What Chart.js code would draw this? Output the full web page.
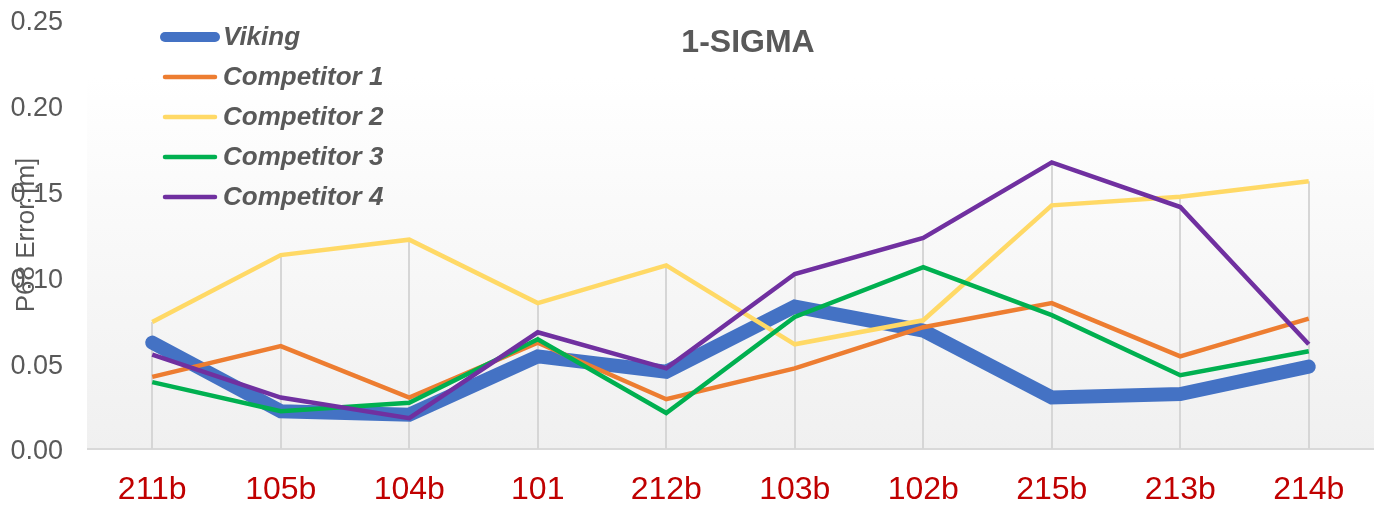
<!DOCTYPE html>
<html>
<head>
<meta charset="utf-8">
<script src="https://cdn.jsdelivr.net/npm/chart.js@4"></script>
<style>
  html, body { margin: 0; padding: 0; background: #fff; }
  #wrap { width: 1387px; height: 513px; }
</style>
</head>
<body>
<div id="wrap"><canvas id="chart"></canvas></div>
<script>
// data
const categories = ['211b', '105b', '104b', '101', '212b', '103b', '102b', '215b', '213b', '214b'];
const seriesNames = ['Viking', 'Competitor 1', 'Competitor 2', 'Competitor 3', 'Competitor 4'];
const viking      = [0.062, 0.022, 0.020, 0.054, 0.045, 0.083, 0.069, 0.030, 0.032, 0.048];
const competitor1 = [0.042, 0.060, 0.030, 0.062, 0.029, 0.047, 0.071, 0.085, 0.054, 0.076];
const competitor2 = [0.074, 0.113, 0.122, 0.085, 0.107, 0.061, 0.075, 0.142, 0.147, 0.156];
const competitor3 = [0.039, 0.022, 0.027, 0.064, 0.021, 0.077, 0.106, 0.078, 0.043, 0.057];
const competitor4 = [0.055, 0.030, 0.018, 0.068, 0.047, 0.102, 0.123, 0.167, 0.141, 0.061];
const yTicks = [0, 0.05, 0.10, 0.15, 0.20, 0.25];

const colors = ['#4472C4', '#ED7D31', '#FFD966', '#00B050', '#7030A0'];
const widths = [14, 4.5, 4.5, 4.5, 4.5];
const allSeries = [viking, competitor1, competitor2, competitor3, competitor4];
const textGrey = '#595959';

// gradient panel + drop lines behind the series
const backdrop = {
    id: 'backdrop',
    beforeDraw(chart) {
        const ctx = chart.ctx;
        const area = chart.chartArea;
        ctx.save();
        ctx.fillStyle = '#fff';
        ctx.fillRect(0, 0, chart.width, chart.height);
        const top = area.top + 56;
        const grad = ctx.createLinearGradient(0, top, 0, area.bottom);
        grad.addColorStop(0, '#ffffff');
        grad.addColorStop(1, '#f0f0f0');
        ctx.fillStyle = grad;
        ctx.fillRect(area.left - 1, top, area.right - area.left + 2, area.bottom - top);
        ctx.restore();
    },
    beforeDatasetsDraw(chart) {
        const ctx = chart.ctx;
        const x = chart.scales.x, y = chart.scales.y;
        ctx.save();
        ctx.strokeStyle = '#d6d6d6';
        ctx.lineWidth = 2;
        categories.forEach((c, i) => {
            const maxVal = Math.max(...allSeries.map(s => s[i]));
            const px = Math.round(x.getPixelForValue(i));
            ctx.beginPath();
            ctx.moveTo(px, y.getPixelForValue(maxVal));
            ctx.lineTo(px, y.getPixelForValue(0));
            ctx.stroke();
        });
        ctx.restore();
    }
};

// title, axis title and legend drawn over the chart
const overlay = {
    id: 'overlay',
    afterDraw(chart) {
        const ctx = chart.ctx;
        ctx.save();
        ctx.fillStyle = textGrey;
        ctx.textBaseline = 'middle';

        ctx.font = 'bold 32px "Liberation Sans", Arial, sans-serif';
        ctx.textAlign = 'center';
        ctx.fillText('1-SIGMA', 748, 43);

        ctx.save();
        ctx.translate(27, 235);
        ctx.rotate(-Math.PI / 2);
        ctx.font = '26px "Liberation Sans", Arial, sans-serif';
        ctx.fillText('P68 Error [m]', 0, 0);
        ctx.restore();

        ctx.textAlign = 'left';
        ctx.font = 'italic bold 26px "Liberation Sans", Arial, sans-serif';
        seriesNames.forEach((name, i) => {
            const yy = 37 + i * 40;
            ctx.strokeStyle = colors[i];
            ctx.lineWidth = i === 0 ? 10 : 4.5;
            ctx.lineCap = 'round';
            ctx.beginPath();
            ctx.moveTo(165, yy);
            ctx.lineTo(215, yy);
            ctx.stroke();
            ctx.fillText(name, 223, yy + 1);
        });
        ctx.restore();
    }
};

const ctx = document.getElementById('chart').getContext('2d');
new Chart(ctx, {
    type: 'line',
    data: {
        labels: categories,
        datasets: allSeries.map((s, i) => ({
            label: seriesNames[i],
            data: s,
            borderColor: colors[i],
            backgroundColor: colors[i],
            borderWidth: widths[i],
            borderCapStyle: i === 0 ? 'round' : 'butt',
            pointRadius: 0,
            tension: 0,
            order: 5 - i
        }))
    },
    options: {
        responsive: true,
        maintainAspectRatio: false,
        animation: false,
        layout: { padding: { top: 20, right: 14, left: 0, bottom: 0 } },
        plugins: {
            legend: { display: false },
            title: { display: false },
            tooltip: { enabled: false }
        },
        scales: {
            x: {
                offset: true,
                grid: { display: false, drawTicks: false },
                border: { color: '#d9d9d9', width: 2 },
                ticks: {
                    color: '#C00000',
                    padding: 22,
                    font: { size: 32, family: '"Liberation Sans", Arial, sans-serif' }
                },
                afterFit: scale => { scale.height = 64; }
            },
            y: {
                min: 0,
                max: 0.25,
                grid: { display: false, drawTicks: false },
                border: { display: false },
                afterBuildTicks: scale => { scale.ticks = yTicks.map(v => ({ value: v })); },
                ticks: {
                    color: textGrey,
                    padding: 25,
                    labelOffset: 3,
                    font: { size: 27, family: '"Liberation Sans", Arial, sans-serif' },
                    callback: v => v.toFixed(2)
                },
                afterFit: scale => {
                    scale.width = 88;
                    scale.paddingTop = 0;
                    scale.paddingBottom = 0;
                }
            }
        }
    },
    plugins: [backdrop, overlay]
});
</script>
</body>
</html>
